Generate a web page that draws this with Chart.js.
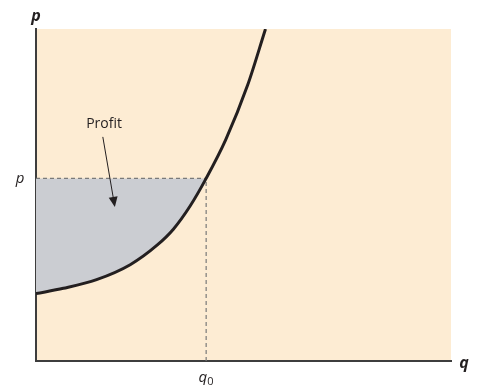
<!DOCTYPE html>
<html>
<head>
<meta charset="utf-8">
<script src="https://cdn.jsdelivr.net/npm/chart.js@4"></script>
<style>
  html, body { margin: 0; padding: 0; background: #fff; }
  #wrap { width: 477px; height: 385px; }
</style>
</head>
<body>
<div id="wrap"><canvas id="profitChart"></canvas></div>
<script>
// Curve (q along x, p along y, both on 0..10 axes)
const curveQ = [0, 0.66, 1.46, 2.27, 2.91, 3.31, 3.71, 4.1, 4.57, 5.1, 5.53];
const curveP = [2.03, 2.19, 2.45, 2.9, 3.48, 3.97, 4.66, 5.5, 6.66, 8.31, 10];
const q0 = 4.1;
const pLevel = 5.5;
const axisMax = [10, 10];
const profitLabel = 'Profit';
const profitText = [1.64, 7.14];
const profitArrow = [[1.61, 6.75], [1.90, 4.64]];

const curvePoints = curveQ.map((q, i) => ({ x: q, y: curveP[i] }));
const areaPoints = curvePoints.filter(pt => pt.x <= q0);

// beige plot area
const bgPlugin = {
  id: 'bg',
  beforeDraw(chart) {
    const { ctx, chartArea: a } = chart;
    ctx.save();
    ctx.fillStyle = '#fdecd3';
    ctx.fillRect(a.left, a.top, a.right - a.left, a.bottom - a.top);
    ctx.restore();
  }
};

// labels + arrow
const labelPlugin = {
  id: 'labels',
  afterDraw(chart) {
    const { ctx, chartArea: a, scales: { x, y } } = chart;
    ctx.save();
    ctx.fillStyle = '#231f20';
    ctx.textBaseline = 'middle';

    ctx.font = 'italic bold 16px "Open Sans", sans-serif';
    ctx.textAlign = 'center';
    ctx.fillText('p', a.left, a.top - 13);
    ctx.fillText('q', a.right + 13, a.bottom + 2);

    ctx.font = 'italic 15px "Open Sans", sans-serif';
    ctx.fillText('p', 20, y.getPixelForValue(pLevel));

    // q0 with subscript
    const qx = x.getPixelForValue(q0);
    ctx.textAlign = 'right';
    ctx.fillText('q', qx + 1, a.bottom + 17);
    ctx.font = '11px "Open Sans", sans-serif';
    ctx.textAlign = 'left';
    ctx.fillText('0', qx + 1, a.bottom + 21);

    ctx.font = '14px "Open Sans", sans-serif';
    ctx.textAlign = 'center';
    ctx.fillText(profitLabel, x.getPixelForValue(profitText[0]), y.getPixelForValue(profitText[1]));

    // arrow
    const x1 = x.getPixelForValue(profitArrow[0][0]), y1 = y.getPixelForValue(profitArrow[0][1]);
    const x2 = x.getPixelForValue(profitArrow[1][0]), y2 = y.getPixelForValue(profitArrow[1][1]);
    const ang = Math.atan2(y2 - y1, x2 - x1);
    ctx.strokeStyle = '#231f20';
    ctx.lineWidth = 1;
    ctx.beginPath();
    ctx.moveTo(x1, y1);
    ctx.lineTo(x2 - 8 * Math.cos(ang), y2 - 8 * Math.sin(ang));
    ctx.stroke();
    ctx.beginPath();
    ctx.moveTo(x2, y2);
    ctx.lineTo(x2 - 10 * Math.cos(ang) + 4.5 * Math.sin(ang), y2 - 10 * Math.sin(ang) - 4.5 * Math.cos(ang));
    ctx.lineTo(x2 - 10 * Math.cos(ang) - 4.5 * Math.sin(ang), y2 - 10 * Math.sin(ang) + 4.5 * Math.cos(ang));
    ctx.closePath();
    ctx.fill();
    ctx.restore();
  }
};

new Chart(document.getElementById('profitChart'), {
  type: 'line',
  data: {
    datasets: [
      {
        // profit area
        data: areaPoints,
        order: 3,
        borderWidth: 0,
        borderColor: 'rgba(0,0,0,0)',
        pointRadius: 0,
        backgroundColor: '#cbcdd2',
        fill: { value: pLevel },
        cubicInterpolationMode: 'monotone'
      },
      {
        data: [{ x: 0, y: pLevel }, { x: q0, y: pLevel }],
        order: 2,
        borderColor: '#7a7a7a',
        borderWidth: 1.2,
        borderDash: [4, 3],
        pointRadius: 0,
        fill: false
      },
      {
        data: [{ x: q0, y: 0 }, { x: q0, y: pLevel }],
        order: 2,
        borderColor: '#7a7a7a',
        borderWidth: 1.2,
        borderDash: [4, 3],
        pointRadius: 0,
        fill: false
      },
      {
        data: curvePoints,
        order: 0,
        borderColor: '#231f20',
        borderWidth: 3,
        pointRadius: 0,
        fill: false,
        cubicInterpolationMode: 'monotone'
      }
    ]
  },
  options: {
    responsive: true,
    maintainAspectRatio: false,
    animation: false,
    events: [],
    layout: { padding: { left: 36, right: 26, top: 29, bottom: 24 } },
    plugins: { legend: { display: false }, tooltip: { enabled: false } },
    scales: {
      x: {
        type: 'linear', min: 0, max: axisMax[0],
        ticks: { display: false },
        grid: { display: false },
        border: { display: true, color: '#3d3d3d', width: 2 },
        afterFit(s) { s.height = 0; }
      },
      y: {
        type: 'linear', min: 0, max: axisMax[1],
        ticks: { display: false },
        grid: { display: false },
        border: { display: true, color: '#3d3d3d', width: 2 },
        afterFit(s) { s.width = 0; }
      }
    }
  },
  plugins: [bgPlugin, labelPlugin]
});
</script>
</body>
</html>
